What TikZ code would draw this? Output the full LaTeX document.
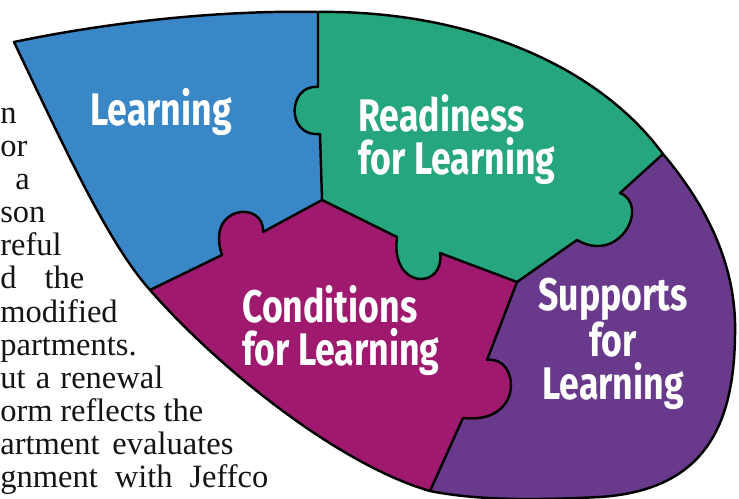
\documentclass[tikz,border=0pt]{standalone}
\usepackage{fontspec}
\usepackage{xcolor}
\usepackage{tikz}
\setmainfont{Liberation Serif}
\newfontfamily\piecefont[FakeStretch=0.78]{Fira Sans}
\definecolor{learnblue}{RGB}{58,135,200}
\definecolor{readgreen}{RGB}{38,166,126}
\definecolor{condmagenta}{RGB}{159,25,110}
\definecolor{suppurple}{RGB}{105,58,140}

\begin{document}
\begin{tikzpicture}[x=0.02cm, y=-0.02cm, line join=round]
	\tikzstyle{piece}=[font=\piecefont\bfseries\fontsize{26}{24.5}\selectfont, text=white, inner sep=0pt]
	\tikzstyle{body}=[font=\fontsize{18.5}{18.5}\selectfont, text=black!92, inner sep=0pt, anchor=base west]
	\tikzstyle{rim}=[draw=black, line width=1.4pt]
	\useasboundingbox (0,0) rectangle (739,499);
	\clip (0,0) rectangle (739,499);

		\foreach \x/\w/\t [count=\i] in {0/12/n, 0/17/or, 15/13/a, 0/43/son, 0/55/reful, 0/84/d the, 0/108/modified, 0/137/partments., 0/163/ut a renewal, 0/203/orm reflects the, 0/233/artment evaluates, 0/268/gnment with Jeffco}{
			\node[body] (line\i) at (\x,{91+33*\i}) {\makebox[\dimexpr 0.02cm*\w\relax][s]{\t}};
			}

	\coordinate (tip) at (14,42);
	\coordinate (topj) at (318,12);
	\coordinate (rightj) at (663,154);
	\coordinate (botj) at (430,491);
	\coordinate (leftj) at (150,290);
	\coordinate (j1) at (322,200);
	\coordinate (j2) at (517,282);
	\def\leaf{(tip) .. controls (110,22) and (220,10) .. (topj) .. controls (450,10) and (590,55) .. (rightj)
		.. controls (706,205) and (737,265) .. (735,335) .. controls (734,425) and (705,490) .. (600,497)
		.. controls (540,500) and (480,501) .. (botj) .. controls (340,465) and (220,370) .. (leftj)
		.. controls (110,245) and (70,160) .. (tip) -- cycle}

	\begin{scope}
		\clip \leaf;
		\fill[learnblue] (-60,-60) -- (318,-60) -- (318,87) .. controls (288,84) and (285,137) .. (320,134) -- (j1)
			-- (263,232) .. controls (265,200) and (205,205) .. (222,255) -- (leftj) -- (60,334) -- (-60,334) -- cycle;
		\fill[readgreen] (318,-60) -- (318,87) .. controls (288,84) and (285,137) .. (320,134) -- (j1)
			-- (397,237) .. controls (390,290) and (445,290) .. (440,253) -- (j2)
			-- (577,240) .. controls (620,265) and (650,205) .. (620,193) -- (rightj) -- (700,121) -- (800,-60) -- cycle;
		\fill[condmagenta] (j1) -- (397,237) .. controls (390,290) and (445,290) .. (440,253) -- (j2)
			-- (487,360) .. controls (520,355) and (525,425) .. (463,418) -- (botj) -- (408,540) -- (60,540) -- (60,334)
			-- (leftj) -- (222,255) .. controls (205,205) and (265,200) .. (263,232) -- cycle;
		\fill[suppurple] (rightj) -- (620,193) .. controls (650,205) and (620,265) .. (577,240) -- (j2)
			-- (487,360) .. controls (520,355) and (525,425) .. (463,418) -- (botj) -- (408,540) -- (800,540)
			-- (800,-60) -- (700,121) -- cycle;
	\end{scope}

	\draw[rim] \leaf;
	\draw[rim] (topj) -- (318,87) .. controls (288,84) and (285,137) .. (320,134) -- (j1);
	\draw[rim] (j1) -- (263,232) .. controls (265,200) and (205,205) .. (222,255) -- (leftj);
	\draw[rim] (j1) -- (397,237) .. controls (390,290) and (445,290) .. (440,253) -- (j2);
	\draw[rim] (j2) -- (577,240) .. controls (620,265) and (650,205) .. (620,193) -- (rightj);
	\draw[rim] (j2) -- (487,360) .. controls (520,355) and (525,425) .. (463,418) -- (botj);

	\node[piece] (learning) at (161,112) {Learning};
	\node[piece, align=left, anchor=west] (readiness) at (358,140) {Readiness\\for Learning};
	\node[piece, align=left, anchor=west] (conditions) at (242,331) {Conditions\\for Learning};
	\node[piece, align=center] (supports) at (613,344) {Supports\\for\\Learning};
\end{tikzpicture}
\end{document}
